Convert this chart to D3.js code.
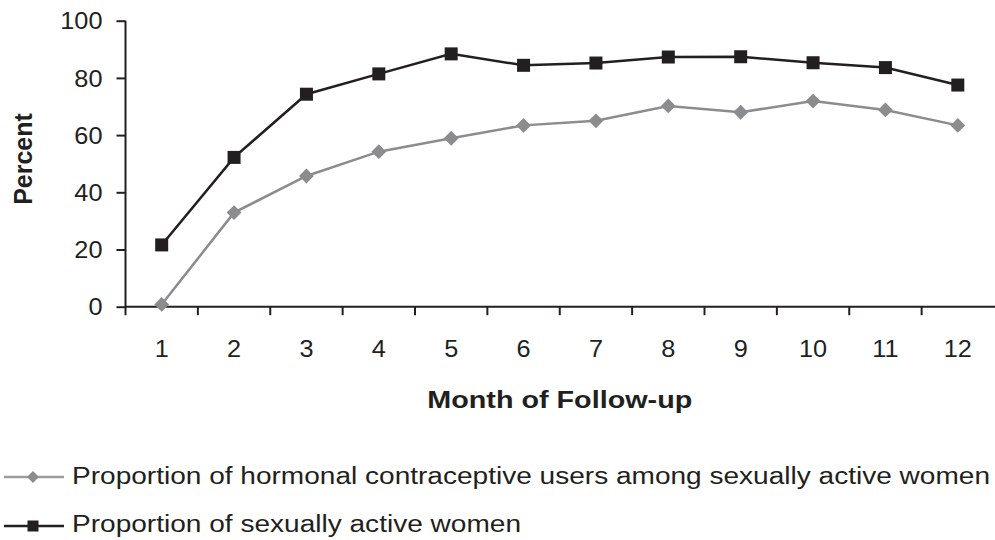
<!DOCTYPE html>
<html><head><meta charset="utf-8">
<script src="https://cdn.jsdelivr.net/npm/d3@7"></script>
<style>
html,body{margin:0;padding:0;background:#fff;}
svg{display:block;font-family:"Liberation Sans",Arial,Helvetica,sans-serif;}
</style></head>
<body>
<svg id="chart" width="995" height="540"></svg>
<script>
const months = ["1","2","3","4","5","6","7","8","9","10","11","12"];
const sexuallyActive = [21.6, 52.2, 74.3, 81.4, 88.4, 84.4, 85.2, 87.3, 87.4, 85.3, 83.6, 77.5];
const hormonalUsers = [0.8, 32.9, 45.7, 54.2, 58.9, 63.4, 65.0, 70.2, 68.0, 71.9, 68.8, 63.4];
const yTicks = [0, 20, 40, 60, 80, 100];
const xTitle = "Month of Follow-up";
const yTitle = "Percent";
const legendLabels = ["Proportion of hormonal contraceptive users among sexually active women", "Proportion of sexually active women"];

(function(){
const svg = d3.select("#chart");
const mLeft = 125.5, mRight = 994, mTop = 20.7, mBottom = 306.7;
const axisColor = "#231f20";
const grayC = "#8b8c8e", blackC = "#231f20";

const x = d3.scaleBand().domain(months).range([mLeft, mRight]).paddingInner(0).paddingOuter(0);
const y = d3.scaleLinear().domain([0, 100]).range([mBottom, mTop]);

function stretch(sel, sx) {
  sel.each(function(){
    const w = this.getComputedTextLength();
    d3.select(this).attr("textLength", w * sx).attr("lengthAdjust", "spacingAndGlyphs");
  });
}

// Y axis
const yAxis = svg.append("g").attr("transform", `translate(${mLeft},0)`)
  .call(d3.axisLeft(y).tickValues(yTicks).tickSize(9).tickPadding(14).tickFormat(d3.format("d")));
yAxis.select(".domain").attr("d", `M0,${mTop}V${mBottom + 8.5}`).attr("stroke", axisColor).attr("stroke-width", 2);
yAxis.selectAll(".tick line").attr("stroke", axisColor).attr("stroke-width", 2);
yAxis.selectAll(".tick text").attr("font-size", 23).attr("fill", "#231f20")
  .attr("font-family", "Liberation Sans, Arial, sans-serif").attr("dy", "0.36em").call(stretch, 1.1);

// X axis
const xAxis = svg.append("g").attr("transform", `translate(0,${mBottom})`)
  .call(d3.axisBottom(x).tickSize(0).tickPadding(50));
xAxis.select(".domain").attr("d", `M${mLeft},0H995`).attr("stroke", axisColor).attr("stroke-width", 2);
xAxis.selectAll(".tick text").attr("font-size", 23).attr("fill", "#231f20")
  .attr("font-family", "Liberation Sans, Arial, sans-serif").attr("dy", 0).call(stretch, 1.1);
xAxis.selectAll("line.bt").data(months.slice(1)).enter().append("line").attr("class", "bt")
  .attr("x1", d => x(d)).attr("x2", d => x(d)).attr("y1", 0).attr("y2", 8.5)
  .attr("stroke", axisColor).attr("stroke-width", 2);

// Titles
svg.append("text").attr("x", (mLeft + mRight) / 2).attr("y", 408).attr("text-anchor", "middle")
  .attr("font-size", 24).attr("font-weight", "bold").attr("fill", "#231f20").text(xTitle)
  .attr("textLength", 265).attr("lengthAdjust", "spacingAndGlyphs");
svg.append("text").attr("transform", "translate(32,159) rotate(-90)").attr("text-anchor", "middle")
  .attr("font-size", 25).attr("font-weight", "bold").attr("fill", "#231f20").text(yTitle);

// Lines
const cx = d => x(d) + x.bandwidth() / 2;
const line = d3.line().x(d => cx(d.m)).y(d => y(d.v));
const grayData = months.map((m, i) => ({m, v: hormonalUsers[i]}));
const blackData = months.map((m, i) => ({m, v: sexuallyActive[i]}));

svg.append("path").datum(grayData).attr("d", line).attr("fill", "none").attr("stroke", grayC).attr("stroke-width", 2.5);
svg.append("path").datum(blackData).attr("d", line).attr("fill", "none").attr("stroke", blackC).attr("stroke-width", 2.5);

svg.selectAll("path.dm").data(grayData).enter().append("path").attr("class", "dm")
  .attr("d", d3.symbol().type(d3.symbolSquare).size(110))
  .attr("transform", d => `translate(${cx(d.m)},${y(d.v)}) rotate(45)`)
  .attr("fill", grayC);
svg.selectAll("rect.sq").data(blackData).enter().append("rect").attr("class", "sq")
  .attr("x", d => cx(d.m) - 6.5).attr("y", d => y(d.v) - 6.5).attr("width", 13).attr("height", 13)
  .attr("fill", blackC);

// Legend
const lg = svg.append("g");
lg.append("line").attr("x1", 4).attr("x2", 64).attr("y1", 477).attr("y2", 477).attr("stroke", "#9a9b9d").attr("stroke-width", 2.5);
lg.append("path").attr("d", d3.symbol().type(d3.symbolSquare).size(72)).attr("transform", "translate(33,477) rotate(45)").attr("fill", grayC);
lg.append("text").attr("x", 72).attr("y", 484).attr("font-size", 23).attr("fill", "#231f20").text(legendLabels[0])
  .attr("textLength", 918).attr("lengthAdjust", "spacingAndGlyphs");
lg.append("line").attr("x1", 4).attr("x2", 64).attr("y1", 526).attr("y2", 526).attr("stroke", blackC).attr("stroke-width", 2.5);
lg.append("rect").attr("x", 27.5).attr("y", 520.5).attr("width", 11).attr("height", 11).attr("fill", blackC);
lg.append("text").attr("x", 72).attr("y", 532).attr("font-size", 23).attr("fill", "#231f20").text(legendLabels[1])
  .attr("textLength", 449).attr("lengthAdjust", "spacingAndGlyphs");
})();
</script>
</body></html>
